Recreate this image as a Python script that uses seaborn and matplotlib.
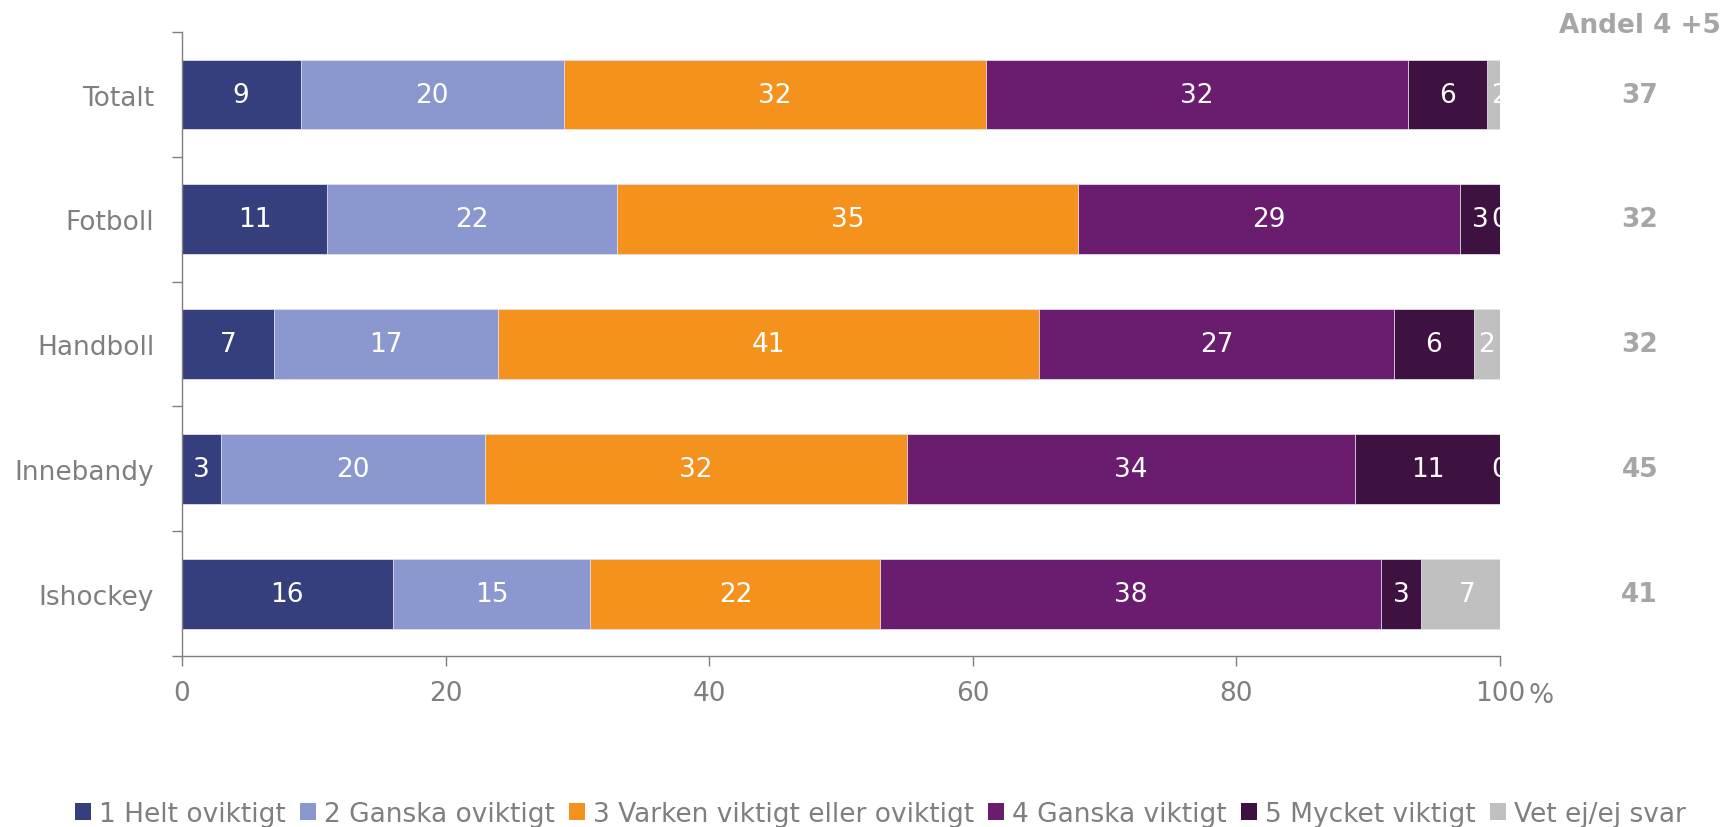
# stacked bars: importance ratings by sport, with share 4+5 on the right
import numpy as np
import matplotlib
matplotlib.use('Agg')
import matplotlib.pyplot as plt
import matplotlib.transforms as mtransforms
from matplotlib.patches import Patch
import seaborn as sns

categories = ['Totalt', 'Fotboll', 'Handboll', 'Innebandy', 'Ishockey']
helt_oviktigt = [9, 11, 7, 3, 16]
ganska_oviktigt = [20, 22, 17, 20, 15]
varken = [32, 35, 41, 32, 22]
ganska_viktigt = [32, 29, 27, 34, 38]
mycket_viktigt = [6, 3, 6, 11, 3]
vet_ej = [2, 0, 2, 0, 7]
andel_4_5 = [37, 32, 32, 45, 41]

series_names = ['1 Helt oviktigt', '2 Ganska oviktigt',
                '3 Varken viktigt eller oviktigt', '4 Ganska viktigt',
                '5 Mycket viktigt', 'Vet ej/ej svar']
series = [helt_oviktigt, ganska_oviktigt, varken, ganska_viktigt,
          mycket_viktigt, vet_ej]
colors = ['#363f7d', '#8b97cf', '#f5921e', '#6a1d6e', '#3d1240', '#c0c0c0']
grey = '#7f7f7f'
fs = 19

sns.set_style('white')
plt.rcParams['font.family'] = ['DejaVu Sans']

fig = plt.figure(figsize=(17.26, 8.28), dpi=100)
ax = fig.add_axes([0.1054, 0.2065, 0.7636, 0.7535])

# cumulative sums, draw the longest first so shorter ones sit on top
vals = np.array(series, dtype=float)
cum = np.cumsum(vals, axis=0)
for i in range(len(series) - 1, -1, -1):
    sns.barplot(x=cum[i], y=categories, orient='h', color=colors[i],
                width=0.56, saturation=1, edgecolor='#e6e0ea',
                linewidth=0.6, ax=ax)

# segment labels
for i in range(len(series)):
    starts = cum[i] - vals[i]
    for j in range(len(categories)):
        ax.text(starts[j] + vals[i][j] / 2, j, f'{int(vals[i][j])}',
                ha='center', va='center', color='white', fontsize=fs,
                clip_on=True)

ax.set_xlim(0, 100)
ax.set_ylim(len(categories) - 0.5, -0.5)
ax.set_xticks([0, 20, 40, 60, 80, 100])
ax.set_xticklabels(['0', '20', '40', '60', '80', '100'])
ax.set_yticks(range(len(categories)))
ax.set_yticklabels(categories)
ax.set_yticks(np.arange(-0.5, len(categories), 1), minor=True)
ax.tick_params(axis='y', which='major', left=False, length=0, pad=20,
               labelsize=fs, labelcolor=grey)
ax.tick_params(axis='y', which='minor', left=True, length=7, color=grey,
               width=1)
ax.tick_params(axis='x', bottom=True, length=7, color=grey, width=1, pad=10,
               labelsize=fs, labelcolor=grey)
ax.set_xlabel('')
ax.set_ylabel('')
for side in ['top', 'right']:
    ax.spines[side].set_visible(False)
for side in ['left', 'bottom']:
    ax.spines[side].set_color(grey)
    ax.spines[side].set_linewidth(1)

# "%" next to the 100 tick label
ax.text(102.2, -0.0625, '%', transform=mtransforms.blended_transform_factory(
    ax.transData, ax.transAxes), ha='left', va='center', fontsize=fs,
    color=grey)

# share 4+5 column
trans = mtransforms.blended_transform_factory(fig.transFigure, ax.transData)
for j, v in enumerate(andel_4_5):
    ax.text(0.950, j, str(v), transform=trans, ha='center', va='center',
            fontsize=fs, fontweight='bold', color='#a6a6a6')
fig.text(0.997, 0.968, 'Andel 4 +5', ha='right', va='center', fontsize=fs,
         fontweight='bold', color='#a6a6a6')

handles = [Patch(facecolor=c, edgecolor='none') for c in colors]
fig.legend(handles, series_names, loc='center', bbox_to_anchor=(0.51, 0.016),
           ncol=6, frameon=False, fontsize=fs, handlelength=0.6,
           handleheight=0.6, handletextpad=0.3, columnspacing=0.55,
           labelcolor=grey)

fig.savefig('out.png', dpi=100)
